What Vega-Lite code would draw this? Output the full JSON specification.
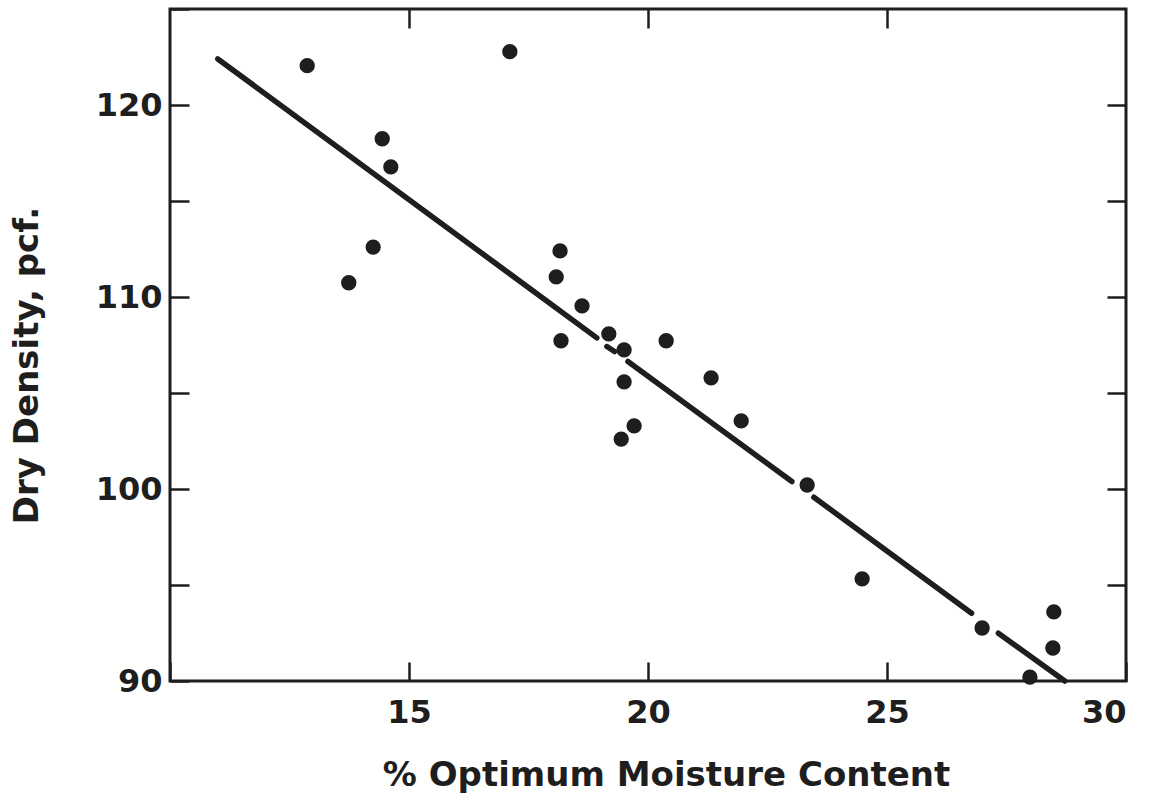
{
  "$schema": "https://vega.github.io/schema/vega-lite/v6.json",
  "width": 956,
  "height": 672,
  "autosize": "none",
  "padding": {"left": 170, "top": 9, "right": 36, "bottom": 121},
  "background": "white",
  "config": {
    "view": {"stroke": "#1e1e1e", "strokeWidth": 3},
    "font": "DejaVu Sans",
    "axis": {
      "domain": false,
      "grid": false,
      "tickColor": "#1e1e1e",
      "tickWidth": 2.5,
      "tickSize": -19,
      "labelFont": "DejaVu Sans",
      "labelFontWeight": "bold",
      "labelFontSize": 32,
      "labelColor": "#1e1e1e",
      "titleFont": "DejaVu Sans",
      "titleFontWeight": "bold",
      "titleFontSize": 34,
      "titleColor": "#1e1e1e"
    }
  },
  "datasets": {
    "samples": [
      {"moisture": 12.87, "density": 122.05},
      {"moisture": 17.11, "density": 122.78},
      {"moisture": 14.44, "density": 118.24},
      {"moisture": 14.62, "density": 116.78},
      {"moisture": 14.25, "density": 112.6},
      {"moisture": 13.74, "density": 110.74},
      {"moisture": 18.16, "density": 112.4},
      {"moisture": 18.08, "density": 111.05},
      {"moisture": 18.62, "density": 109.54},
      {"moisture": 18.18, "density": 107.72},
      {"moisture": 19.18, "density": 108.08},
      {"moisture": 19.5, "density": 107.25},
      {"moisture": 19.5, "density": 105.58},
      {"moisture": 19.44, "density": 102.6},
      {"moisture": 19.71, "density": 103.29},
      {"moisture": 20.38, "density": 107.72},
      {"moisture": 21.32, "density": 105.79},
      {"moisture": 21.95, "density": 103.55},
      {"moisture": 23.33, "density": 100.21},
      {"moisture": 24.48, "density": 95.32},
      {"moisture": 26.99, "density": 92.76},
      {"moisture": 28.49, "density": 93.6},
      {"moisture": 28.47, "density": 91.72},
      {"moisture": 27.99, "density": 90.2}
    ],
    "trend": [
      {"x": 11.0, "y": 122.4, "x2": 18.93, "y2": 107.87},
      {"x": 19.14, "y": 107.42, "x2": 19.3, "y2": 107.16},
      {"x": 19.58, "y": 106.64, "x2": 23.01, "y2": 100.39},
      {"x": 23.47, "y": 99.57, "x2": 26.77, "y2": 93.53},
      {"x": 27.33, "y": 92.49, "x2": 28.72, "y2": 90.0}
    ]
  },
  "resolve": {"axis": {"x": "independent", "y": "independent"}},
  "layer": [
    {
      "data": {"name": "trend"},
      "mark": {"type": "rule", "color": "#1e1e1e", "strokeWidth": 5.5, "strokeCap": "round"},
      "encoding": {
        "x": {
          "field": "x", "type": "quantitative",
          "scale": {"domain": [10, 30], "nice": false, "zero": false},
          "axis": {
            "orient": "bottom",
            "values": [10, 15, 20, 25, 30],
            "labelExpr": "datum.value === 10 ? '' : datum.label",
            "labelPadding": 35,
            "labelBaseline": "top",
            "title": "% Optimum Moisture Content",
            "titleX": 496,
            "titleY": 104,
            "titleAlign": "center",
            "titleBaseline": "alphabetic"
          }
        },
        "x2": {"field": "x2"},
        "y": {
          "field": "y", "type": "quantitative",
          "scale": {"domain": [90, 125], "nice": false, "zero": false},
          "axis": {
            "orient": "left",
            "values": [90, 95, 100, 105, 110, 115, 120, 125],
            "labelExpr": "datum.value % 10 === 0 ? datum.label : ''",
            "labelPadding": 27,
            "labelBaseline": "middle",
            "title": "Dry Density, pcf.",
            "titleX": -133,
            "titleY": 356,
            "titleAngle": -90,
            "titleAlign": "center",
            "titleBaseline": "alphabetic"
          }
        },
        "y2": {"field": "y2"}
      }
    },
    {
      "data": {"name": "samples"},
      "mark": {"type": "circle", "color": "#1e1e1e", "opacity": 1, "size": 235},
      "encoding": {
        "x": {
          "field": "moisture", "type": "quantitative",
          "scale": {"domain": [10, 30], "nice": false, "zero": false},
          "axis": {"orient": "top", "values": [15, 20, 25], "labels": false, "title": null}
        },
        "y": {
          "field": "density", "type": "quantitative",
          "scale": {"domain": [90, 125], "nice": false, "zero": false},
          "axis": {"orient": "right", "values": [95, 100, 105, 110, 115, 120], "labels": false, "title": null}
        }
      }
    }
  ]
}
